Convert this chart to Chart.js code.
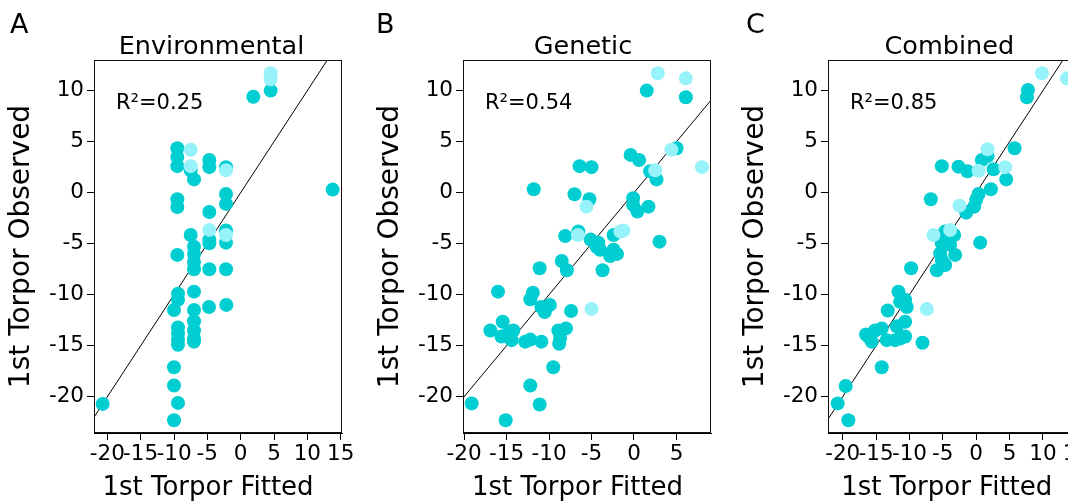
<!DOCTYPE html>
<html><head><meta charset="utf-8">
<script src="https://cdn.jsdelivr.net/npm/chart.js@4.4.1/dist/chart.umd.min.js"></script>
<style>
html,body{margin:0;padding:0;background:#fff;overflow:hidden;width:1068px;height:502px;}
#wrap{position:relative;width:1068px;height:502px;overflow:hidden;background:#fff;}
canvas{position:absolute;top:0;}
</style></head><body>
<div id="wrap">
<canvas id="cA" width="423" height="502" style="left:0px"></canvas>
<canvas id="cB" width="428" height="502" style="left:369px"></canvas>
<canvas id="cC" width="431" height="502" style="left:734px"></canvas>
</div>
<script>
// ---- labels ----
const panelLetters = ['A', 'B', 'C'];
const panelTitles = ['Environmental', 'Genetic', 'Combined'];
const r2Values = ['0.25', '0.54', '0.85'];
const xAxisTitle = '1st Torpor Fitted';
const yAxisTitle = '1st Torpor Observed';

// ---- tick labels ----
const yTicks = [-20, -15, -10, -5, 0, 5, 10];
const xTicksA = [-20, -15, -10, -5, 0, 5, 10, 15];
const xTicksB = [-20, -15, -10, -5, 0, 5];
const xTicksC = [-20, -15, -10, -5, 0, 5, 10, 15];

// ---- identity line (y = x) ----
const identityRange = [-30, 30];

// ---- Environmental ----
const envDarkX = [4.5, 1.9, 13.8, -9.5, -9.5, -9.5, -7.5, -7.0, -4.7, -4.7, -2.2, -9.5, -9.5, -2.2, -2.2, -4.7, -7.5, -4.7, -4.7, -2.2, -2.2, -7.0, -7.0, -7.0, -7.0, -9.5, -4.7, -2.2, -9.4, -9.4, -10.0, -7.0, -7.0, -4.75, -2.15, -9.4, -9.4, -9.4, -9.4, -7.0, -7.0, -7.0, -7.0, -10.0, -10.0, -9.4, -10.0, -20.7];
const envDarkY = [10.0, 9.4, 0.3, 4.35, 3.5, 2.6, 2.2, 1.3, 3.2, 2.5, 2.5, -0.65, -1.4, -0.13, -1.1, -1.9, -4.15, -4.6, -4.96, -3.7, -4.9, -5.3, -6.0, -6.8, -7.5, -6.1, -7.5, -7.5, -9.9, -10.5, -11.5, -9.7, -11.5, -11.2, -11.0, -13.2, -13.8, -14.4, -14.9, -12.6, -13.5, -14.3, -14.6, -17.1, -18.9, -20.6, -22.3, -20.7];
const envLightX = [4.5, 4.5, -7.5, -7.5, -2.2, -4.7, -2.2];
const envLightY = [11.7, 11.1, 4.2, 2.6, 2.2, -3.65, -4.15];

// ---- Genetic ----
const genDarkX = [1.5, 6.1, 5.0, -0.4, 0.6, 1.9, 2.65, -6.4, -5.0, -11.8, -7.0, -5.25, -0.1, -0.1, 0.4, 1.7, -2.4, -8.1, -6.55, -5.1, -4.2, 3.0, -4.4, -4.0, -2.4, -2.0, -2.8, -3.7, -11.1, -8.5, -7.9, -16.0, -11.9, -12.2, -10.9, -9.9, -10.5, -7.4, -16.9, -15.45, -15.6, -14.2, -14.4, -14.8, -12.8, -12.2, -10.9, -8.9, -8.0, -8.8, -8.7, -9.5, -12.2, -11.1, -19.1, -15.1];
const genDarkY = [10.0, 9.35, 4.35, 3.7, 3.2, 2.1, 1.3, 2.6, 2.5, 0.33, -0.16, -0.65, -0.55, -1.2, -1.85, -1.37, -4.15, -4.25, -3.8, -4.6, -4.9, -4.8, -5.3, -5.6, -5.6, -6.0, -6.2, -7.6, -7.4, -6.7, -7.6, -9.7, -9.8, -10.45, -11.2, -11.0, -11.7, -11.6, -13.5, -12.65, -14.1, -13.5, -14.45, -13.8, -14.6, -14.4, -14.6, -13.5, -13.3, -14.8, -14.3, -17.1, -18.9, -20.75, -20.65, -22.3];
const genLightX = [2.8, 6.1, 4.4, 8.0, 2.5, -5.6, -1.25, -1.6, -6.6, -5.0];
const genLightY = [11.7, 11.2, 4.2, 2.5, 2.2, -1.37, -3.7, -3.8, -4.15, -11.4];

// ---- Combined ----
const comDarkX = [7.75, 7.6, 5.75, 1.7, 0.85, -5.15, -2.65, -1.3, 2.6, 4.5, -6.8, 2.2, 0.35, 0.0, -0.3, -1.5, -4.65, -3.3, -4.4, 0.6, -5.15, -3.9, -3.15, -5.4, -5.15, -5.9, -4.65, -9.75, -11.65, -10.65, -10.4, -13.25, -11.4, -10.65, -11.9, -16.15, -15.15, -14.15, -13.4, -12.15, -11.4, -10.65, -15.65, -16.5, -8.05, -14.15, -19.55, -20.75, -19.15];
const comDarkY = [10.07, 9.35, 4.35, 3.6, 3.2, 2.6, 2.55, 2.1, 2.3, 1.3, -0.65, 0.33, -0.13, -0.7, -1.37, -1.96, -3.8, -4.15, -4.8, -4.9, -4.96, -5.1, -6.1, -5.95, -6.6, -7.6, -7.1, -7.4, -9.7, -10.5, -11.2, -11.55, -10.7, -12.65, -13.1, -14.1, -13.5, -13.3, -14.45, -14.45, -14.3, -14.1, -14.6, -13.9, -14.7, -17.1, -18.95, -20.65, -22.3];
const comLightX = [9.85, 13.6, 1.7, 0.35, 4.35, -2.5, -6.4, -3.9, -7.4];
const comLightY = [11.7, 11.2, 4.25, 2.15, 2.5, -1.27, -4.15, -3.66, -11.4];

const DARK = '#00CED1';
const LIGHT = '#98F2FA';
const FONT = 'DejaVu Sans';

const zip = (xs, ys) => xs.map((x, i) => ({x: x, y: ys[i]}));

const panelDeco = {
  id: 'panelDeco',
  afterDraw(chart, args, opts) {
    const ctx = chart.ctx, a = chart.chartArea;
    ctx.save();
    ctx.strokeStyle = '#111';
    ctx.lineWidth = 1;
    const l = Math.round(a.left) + 0.5, t = Math.round(a.top) + 0.5;
    const r = Math.round(a.right) - 0.5, b = Math.round(a.bottom) - 0.5;
    ctx.strokeRect(l, t, r - l, b - t);
    ctx.fillStyle = '#000';
    ctx.textBaseline = 'alphabetic';
    ctx.textAlign = 'left';
    ctx.font = '27px "' + FONT + '"';
    ctx.fillText(opts.letter, opts.letterX, 33);
    ctx.font = '21px "' + FONT + '"';
    ctx.fillText('R\u00B2=' + opts.r2, a.left + 22, a.top + 49);
    ctx.textAlign = 'center';
    ctx.font = '25.5px "' + FONT + '"';
    ctx.fillText(opts.title, opts.titleX, 54);
    ctx.font = '26px "' + FONT + '"';
    ctx.fillText(xAxisTitle, opts.xTitleX, 495);
    ctx.restore();
  }
};

function makePanel(id, idx, darkX, darkY, lightX, lightY, xMin, xMax, xTicks, rightPad, letterX, titleX, xTitleX) {
  const tickFont = {family: FONT, size: 21.5};
  const yTitleFont = {family: FONT, size: 28};
  const gridOpts = {display: true, drawOnChartArea: false, drawTicks: true, tickLength: 7, color: '#000', lineWidth: 1};
  new Chart(document.getElementById(id), {
    type: 'scatter',
    data: {
      datasets: [
        {data: zip(lightX, lightY), backgroundColor: LIGHT, pointRadius: 7, pointBorderWidth: 0, borderWidth: 0, order: 0},
        {data: zip(darkX, darkY), backgroundColor: DARK, pointRadius: 7, pointBorderWidth: 0, borderWidth: 0, order: 1},
        {type: 'line', data: identityRange.map(v => ({x: v, y: v})), borderColor: '#000', borderWidth: 1, pointRadius: 0, fill: false, order: 2}
      ]
    },
    options: {
      responsive: false,
      animation: false,
      devicePixelRatio: 1,
      layout: {padding: {left: 0, right: rightPad, top: 60, bottom: 0}},
      plugins: {
        legend: {display: false},
        tooltip: {enabled: false},
        title: {display: false},
        panelDeco: {letter: panelLetters[idx], letterX: letterX, r2: r2Values[idx], title: panelTitles[idx], titleX: titleX, xTitleX: xTitleX}
      },
      scales: {
        x: {
          type: 'linear', min: xMin, max: xMax,
          afterBuildTicks: ax => { ax.ticks = xTicks.map(v => ({value: v})); },
          afterFit: ax => { ax.height = 69; },
          grid: gridOpts,
          border: {display: true, color: '#000', width: 1},
          ticks: {color: '#000', font: tickFont, padding: 2, autoSkip: false, maxRotation: 0, minRotation: 0},
          title: {display: false}
        },
        y: {
          type: 'linear', min: -23.55, max: 13.0,
          afterBuildTicks: ax => { ax.ticks = yTicks.map(v => ({value: v})); },
          afterFit: ax => { ax.width = 94; },
          grid: gridOpts,
          border: {display: true, color: '#000', width: 1},
          ticks: {color: '#000', font: tickFont, padding: 3, autoSkip: false},
          title: {display: true, text: yAxisTitle, color: '#000', font: yTitleFont, padding: {top: 5, bottom: 0}}
        }
      }
    },
    plugins: [panelDeco]
  });
}

makePanel('cA', 0, envDarkX, envDarkY, envLightX, envLightY, -22.0, 15.2, xTicksA, 81, 10, 211.5, 208);
makePanel('cB', 1, genDarkX, genDarkY, genLightX, genLightY, -20.12, 9.06, xTicksB, 86, 7, 214, 208.5);
makePanel('cC', 2, comDarkX, comDarkY, comLightX, comLightY, -22.2, 15.1, xTicksC, 88, 12, 215.3, 212.7);
</script>
</body></html>
